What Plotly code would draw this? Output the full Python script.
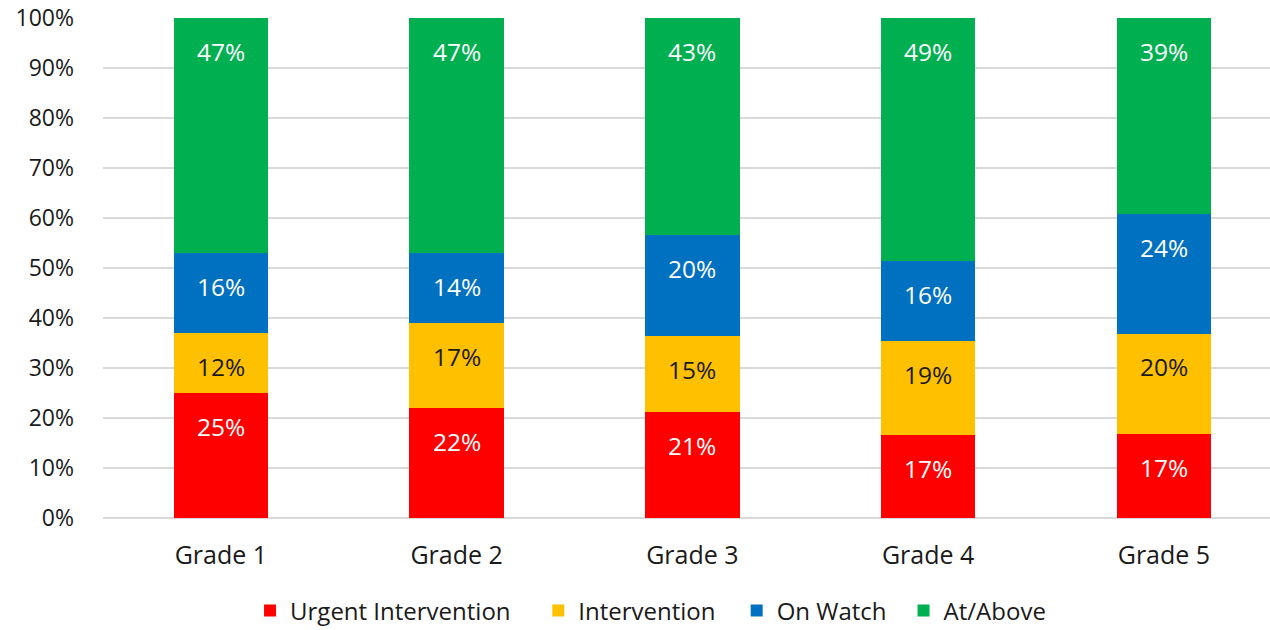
import plotly.graph_objects as go

grades = ["Grade 1", "Grade 2", "Grade 3", "Grade 4", "Grade 5"]
urgent = [25.0, 22.0, 21.2, 16.6, 16.8]
intervention = [12.0, 17.0, 15.2, 18.8, 20.1]
on_watch = [16.0, 14.0, 20.2, 16.0, 23.9]
at_above = [47.0, 47.0, 43.4, 48.6, 39.2]

series_names = ["Urgent Intervention", "Intervention", "On Watch", "At/Above"]
series_values = [urgent, intervention, on_watch, at_above]
colors = ["#FF0000", "#FFC000", "#0070C0", "#00B050"]
label_colors = ["white", "#1a1a1a", "white", "white"]

FONT = "'Open Sans', Lato, sans-serif"
TEXT = "#1a1a1a"

# legend entry left positions (paper fraction of plot width)
legend_x = [0.126, 0.373, 0.543, 0.686]
legend_keys = ["legend", "legend2", "legend3", "legend4"]

fig = go.Figure()
for name, vals, col, lk in zip(series_names, series_values, colors, legend_keys):
    fig.add_trace(go.Bar(x=grades, y=vals, name=name, marker_color=col,
                         marker_line_width=0, width=0.4, hoverinfo="skip",
                         legend=lk))

annotations = []
cum = [0.0] * len(grades)
for vals, lc in zip(series_values, label_colors):
    for i, v in enumerate(vals):
        cum[i] += v
        annotations.append(dict(x=grades[i], y=cum[i], xref="x", yref="y",
                                text=f"{int(v + 0.5)}%", showarrow=False,
                                yshift=-33, font=dict(family=FONT, size=24.5, color=lc)))

legend_layout = {}
for lk, lx in zip(legend_keys, legend_x):
    legend_layout[lk] = dict(orientation="h", x=lx, xanchor="left", y=-0.186,
                             yanchor="middle", bgcolor="rgba(0,0,0,0)",
                             font=dict(family=FONT, size=24, color=TEXT),
                             itemwidth=30)

fig.update_layout(
    width=1270, height=630,
    margin=dict(l=103, r=0, t=18, b=112, autoexpand=False),
    barmode="stack",
    plot_bgcolor="white", paper_bgcolor="white",
    font=dict(family=FONT, color=TEXT),
    annotations=annotations,
    showlegend=True,
    xaxis=dict(range=[-0.5, 4.45], showgrid=False, showline=False, ticks="",
               tickfont=dict(family=FONT, size=25, color=TEXT),
               ticklabelstandoff=20, automargin=False),
    yaxis=dict(range=[0, 100], dtick=10, ticksuffix="%", showgrid=True,
               gridcolor="#D9D9D9", gridwidth=2, zeroline=True, zerolinecolor="#D9D9D9",
               zerolinewidth=2, showline=False, ticks="",
               tickfont=dict(family=FONT, size=23, color=TEXT),
               ticklabelstandoff=28, automargin=False),
    **legend_layout,
)

fig.write_html("out.html", config={"displayModeBar": False},
               post_script="document.body.style.margin='0';")
